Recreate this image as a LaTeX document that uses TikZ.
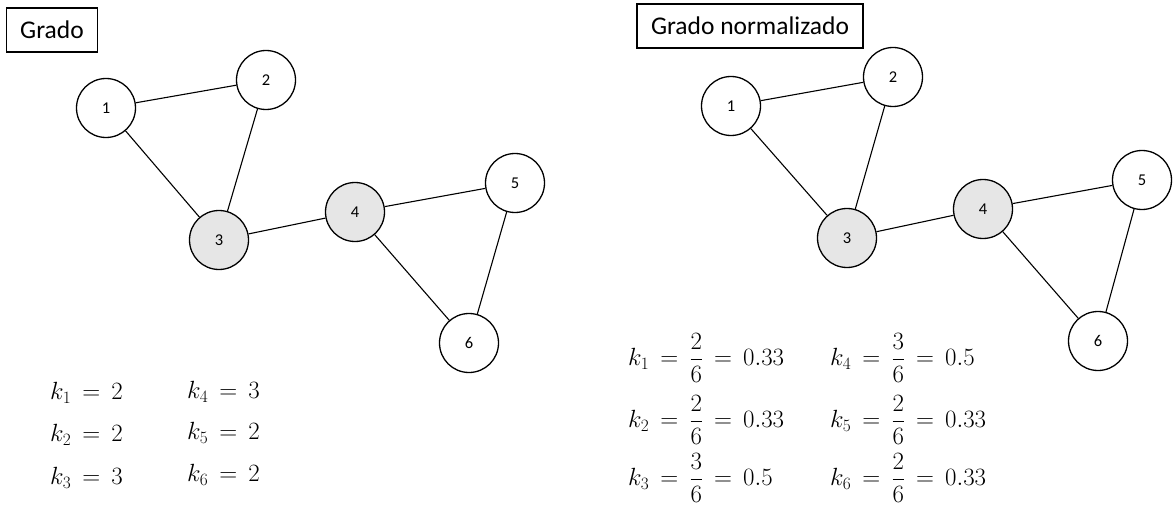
\documentclass[tikz,border=0pt]{standalone}
\usepackage[no-math]{fontspec}
\setmainfont{Carlito}
\usepackage{amsmath}
\usepackage{xcolor}
\usetikzlibrary{positioning}
\definecolor{hubgray}{HTML}{E6E6E6}

\begin{document}
\begin{tikzpicture}[
  x=1pt, y=-1pt,
  every node/.style={font=\fontsize{16.5}{19}\selectfont},
  vnode/.style={circle, draw=black, fill=white, line width=1.3pt, minimum size=59pt, inner sep=0pt},
  hubnode/.style={vnode, fill=hubgray},
  titlebox/.style={rectangle, draw=black, line width=1.1pt, minimum height=44pt, inner xsep=14pt, font=\fontsize{25.5}{30}\selectfont},
  eqnode/.style={anchor=west, inner sep=0pt, font=\fontsize{25.5}{30}\selectfont},
  edge/.style={line width=1.1pt},
]
\useasboundingbox (0,0) rectangle (1173,524);

% left: degree
\node[titlebox] (ta) at (52,30) {Grado};
\node[vnode] (a1) at (106,108) {1};
\node[vnode] (a2) at (266,80) {2};
\node[hubnode] (a3) at (219,240) {3};
\node[hubnode] (a4) at (355,212) {4};
\node[vnode] (a5) at (515,183) {5};
\node[vnode] (a6) at (469,343) {6};
\draw[edge] (a1)--(a2);\draw[edge] (a1)--(a3);\draw[edge] (a2)--(a3);
\draw[edge] (a3)--(a4);\draw[edge] (a4)--(a5);\draw[edge] (a4)--(a6);\draw[edge] (a5)--(a6);
\node[eqnode] (ka1) at (50,393) {$k_1 \,=\, 2$};
\node[eqnode] (ka2) at (50,435) {$k_2 \,=\, 2$};
\node[eqnode] (ka3) at (50,478) {$k_3 \,=\, 3$};
\node[eqnode] (ka4) at (187,392) {$k_4 \,=\, 3$};
\node[eqnode] (ka5) at (187,433) {$k_5 \,=\, 2$};
\node[eqnode] (ka6) at (187,475) {$k_6 \,=\, 2$};

% right: normalised degree
\node[titlebox] (tb) at (750,26) {Grado normalizado};
\node[vnode] (b1) at (731,106) {1};
\node[vnode] (b2) at (893,77) {2};
\node[hubnode] (b3) at (847,238) {3};
\node[hubnode] (b4) at (983,209) {4};
\node[vnode] (b5) at (1142,180) {5};
\node[vnode] (b6) at (1098,341) {6};
\draw[edge] (b1)--(b2);\draw[edge] (b1)--(b3);\draw[edge] (b2)--(b3);
\draw[edge] (b3)--(b4);\draw[edge] (b4)--(b5);\draw[edge] (b4)--(b6);\draw[edge] (b5)--(b6);
\node[eqnode] (kb1) at (628,358) {$k_1 \,=\, \dfrac{2}{6} \,=\, 0.33$};
\node[eqnode] (kb2) at (628,420) {$k_2 \,=\, \dfrac{2}{6} \,=\, 0.33$};
\node[eqnode] (kb3) at (628,478) {$k_3 \,=\, \dfrac{3}{6} \,=\, 0.5$};
\node[eqnode] (kb4) at (830,358) {$k_4 \,=\, \dfrac{3}{6} \,=\, 0.5$};
\node[eqnode] (kb5) at (830,420) {$k_5 \,=\, \dfrac{2}{6} \,=\, 0.33$};
\node[eqnode] (kb6) at (830,478) {$k_6 \,=\, \dfrac{2}{6} \,=\, 0.33$};
\end{tikzpicture}
\end{document}
